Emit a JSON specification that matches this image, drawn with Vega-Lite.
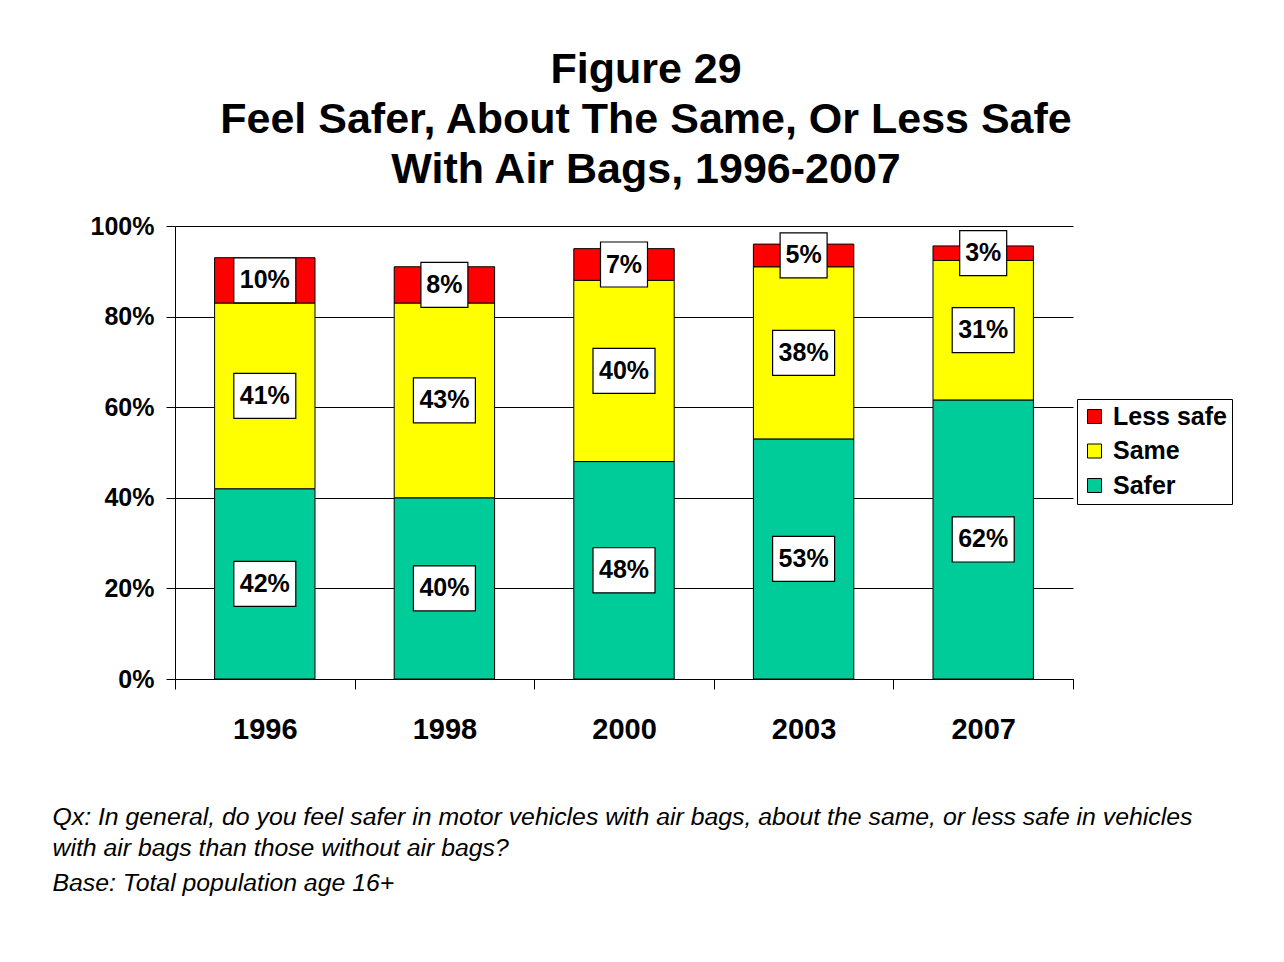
{
  "$schema": "https://vega.github.io/schema/vega-lite/v6.json",
  "width": 898,
  "height": 453,
  "autosize": "none",
  "padding": {"left": 175, "top": 226, "right": 211, "bottom": 283},
  "background": "white",
  "title": {
    "text": ["Figure 29", "Feel Safer, About The Same, Or Less Safe", "With Air Bags, 1996-2007"],
    "font": "Liberation Sans",
    "fontSize": 43,
    "fontWeight": "bold",
    "color": "black",
    "lineHeight": 50,
    "anchor": "middle",
    "dx": 22,
    "offset": 22
  },
  "data": {
    "values": [
      {"year": "1996", "category": "Safer", "value": 0.42},
      {"year": "1996", "category": "Same", "value": 0.41},
      {"year": "1996", "category": "Less safe", "value": 0.10},
      {"year": "1998", "category": "Safer", "value": 0.40},
      {"year": "1998", "category": "Same", "value": 0.43},
      {"year": "1998", "category": "Less safe", "value": 0.08},
      {"year": "2000", "category": "Safer", "value": 0.48},
      {"year": "2000", "category": "Same", "value": 0.40},
      {"year": "2000", "category": "Less safe", "value": 0.07},
      {"year": "2003", "category": "Safer", "value": 0.53},
      {"year": "2003", "category": "Same", "value": 0.38},
      {"year": "2003", "category": "Less safe", "value": 0.05},
      {"year": "2007", "category": "Safer", "value": 0.616},
      {"year": "2007", "category": "Same", "value": 0.308},
      {"year": "2007", "category": "Less safe", "value": 0.032}
    ]
  },
  "transform": [
    {"calculate": "indexof(['Safer','Same','Less safe'], datum.category)", "as": "stackOrder"}
  ],
  "encoding": {
    "x": {
      "field": "year",
      "type": "nominal",
      "sort": null,
      "title": ["Qx: In general, do you feel safer in motor vehicles with air bags, about the same, or less safe in vehicles", "with air bags than those without air bags?"],
      "scale": {"paddingInner": 0, "paddingOuter": 0},
      "axis": {
        "labelAngle": 0,
        "labelFont": "Liberation Sans",
        "labelFontSize": 29,
        "labelFontWeight": "bold",
        "labelColor": "black",
        "labelPadding": 26,
        "domainColor": "black",
        "domainWidth": 1,
        "tickColor": "black",
        "tickSize": 10,
        "tickWidth": 1,
        "tickBand": "extent",
        "grid": false,
        "titleFont": "Liberation Sans",
        "titleFontSize": 24.8,
        "titleFontStyle": "italic",
        "titleFontWeight": "normal",
        "titleColor": "black",
        "titleAnchor": "start",
        "titleAlign": "left",
        "titleBaseline": "alphabetic",
        "titleX": -123,
        "titleY": 145,
        "titleLineHeight": 31
      }
    },
    "order": {"field": "stackOrder", "type": "quantitative"}
  },
  "layer": [
    {
      "mark": {"type": "bar", "stroke": "black", "strokeWidth": 1, "width": {"band": 0.559}},
      "encoding": {
        "y": {
          "field": "value",
          "type": "quantitative",
          "stack": "zero",
          "title": "Base: Total population age 16+",
          "scale": {"domain": [0, 1], "nice": false},
          "axis": {
            "values": [0, 0.2, 0.4, 0.6, 0.8, 1],
            "format": ".0%",
            "labelFont": "Liberation Sans",
            "labelFontSize": 25,
            "labelFontWeight": "bold",
            "labelColor": "black",
            "labelPadding": 12,
            "domainColor": "black",
            "tickColor": "black",
            "tickSize": 9,
            "grid": true,
            "gridColor": "black",
            "gridWidth": 1,
            "gridOpacity": 1,
            "titleFont": "Liberation Sans",
            "titleFontSize": 24.8,
            "titleFontStyle": "italic",
            "titleFontWeight": "normal",
            "titleColor": "black",
            "titleAngle": 0,
            "titleAlign": "left",
            "titleBaseline": "alphabetic",
            "titleX": -123,
            "titleY": 664
          }
        },
        "color": {
          "field": "category",
          "type": "nominal",
          "scale": {"domain": ["Less safe", "Same", "Safer"], "range": ["#FF0000", "#FFFF00", "#00CC99"]},
          "legend": {
            "title": null,
            "orient": "none",
            "legendX": 902,
            "legendY": 173,
            "strokeColor": "black",
            "fillColor": "white",
            "padding": 5,
            "symbolType": "square",
            "symbolSize": 196,
            "symbolStrokeColor": "black",
            "symbolStrokeWidth": 1,
            "symbolOpacity": 1,
            "labelFont": "Liberation Sans",
            "labelFontSize": 25,
            "labelFontWeight": "bold",
            "labelColor": "black",
            "labelOffset": 6,
            "rowPadding": 8.5
          }
        }
      }
    },
    {
      "mark": {"type": "point", "filled": true, "fill": "white", "stroke": "black", "strokeWidth": 1.2, "opacity": 1},
      "encoding": {
        "y": {"field": "value", "type": "quantitative", "stack": "zero", "bandPosition": 0.5, "title": "Base: Total population age 16+"},
        "detail": {"field": "category"},
        "shape": {
          "condition": {"test": "datum.value < 0.095", "value": "M-1,-0.957L1,-0.957L1,0.957L-1,0.957Z"},
          "value": "M-1,-0.726L1,-0.726L1,0.726L-1,0.726Z"
        },
        "size": {
          "condition": {"test": "datum.value < 0.095", "value": 2209},
          "value": 3844
        }
      }
    },
    {
      "mark": {"type": "text", "font": "Liberation Sans", "fontSize": 25, "fontWeight": "bold", "color": "black", "align": "center", "baseline": "middle"},
      "encoding": {
        "y": {"field": "value", "type": "quantitative", "stack": "zero", "bandPosition": 0.5, "title": "Base: Total population age 16+"},
        "detail": {"field": "category"},
        "text": {"field": "value", "type": "quantitative", "format": ".0%"}
      }
    }
  ],
  "config": {
    "view": {"stroke": null}
  }
}
